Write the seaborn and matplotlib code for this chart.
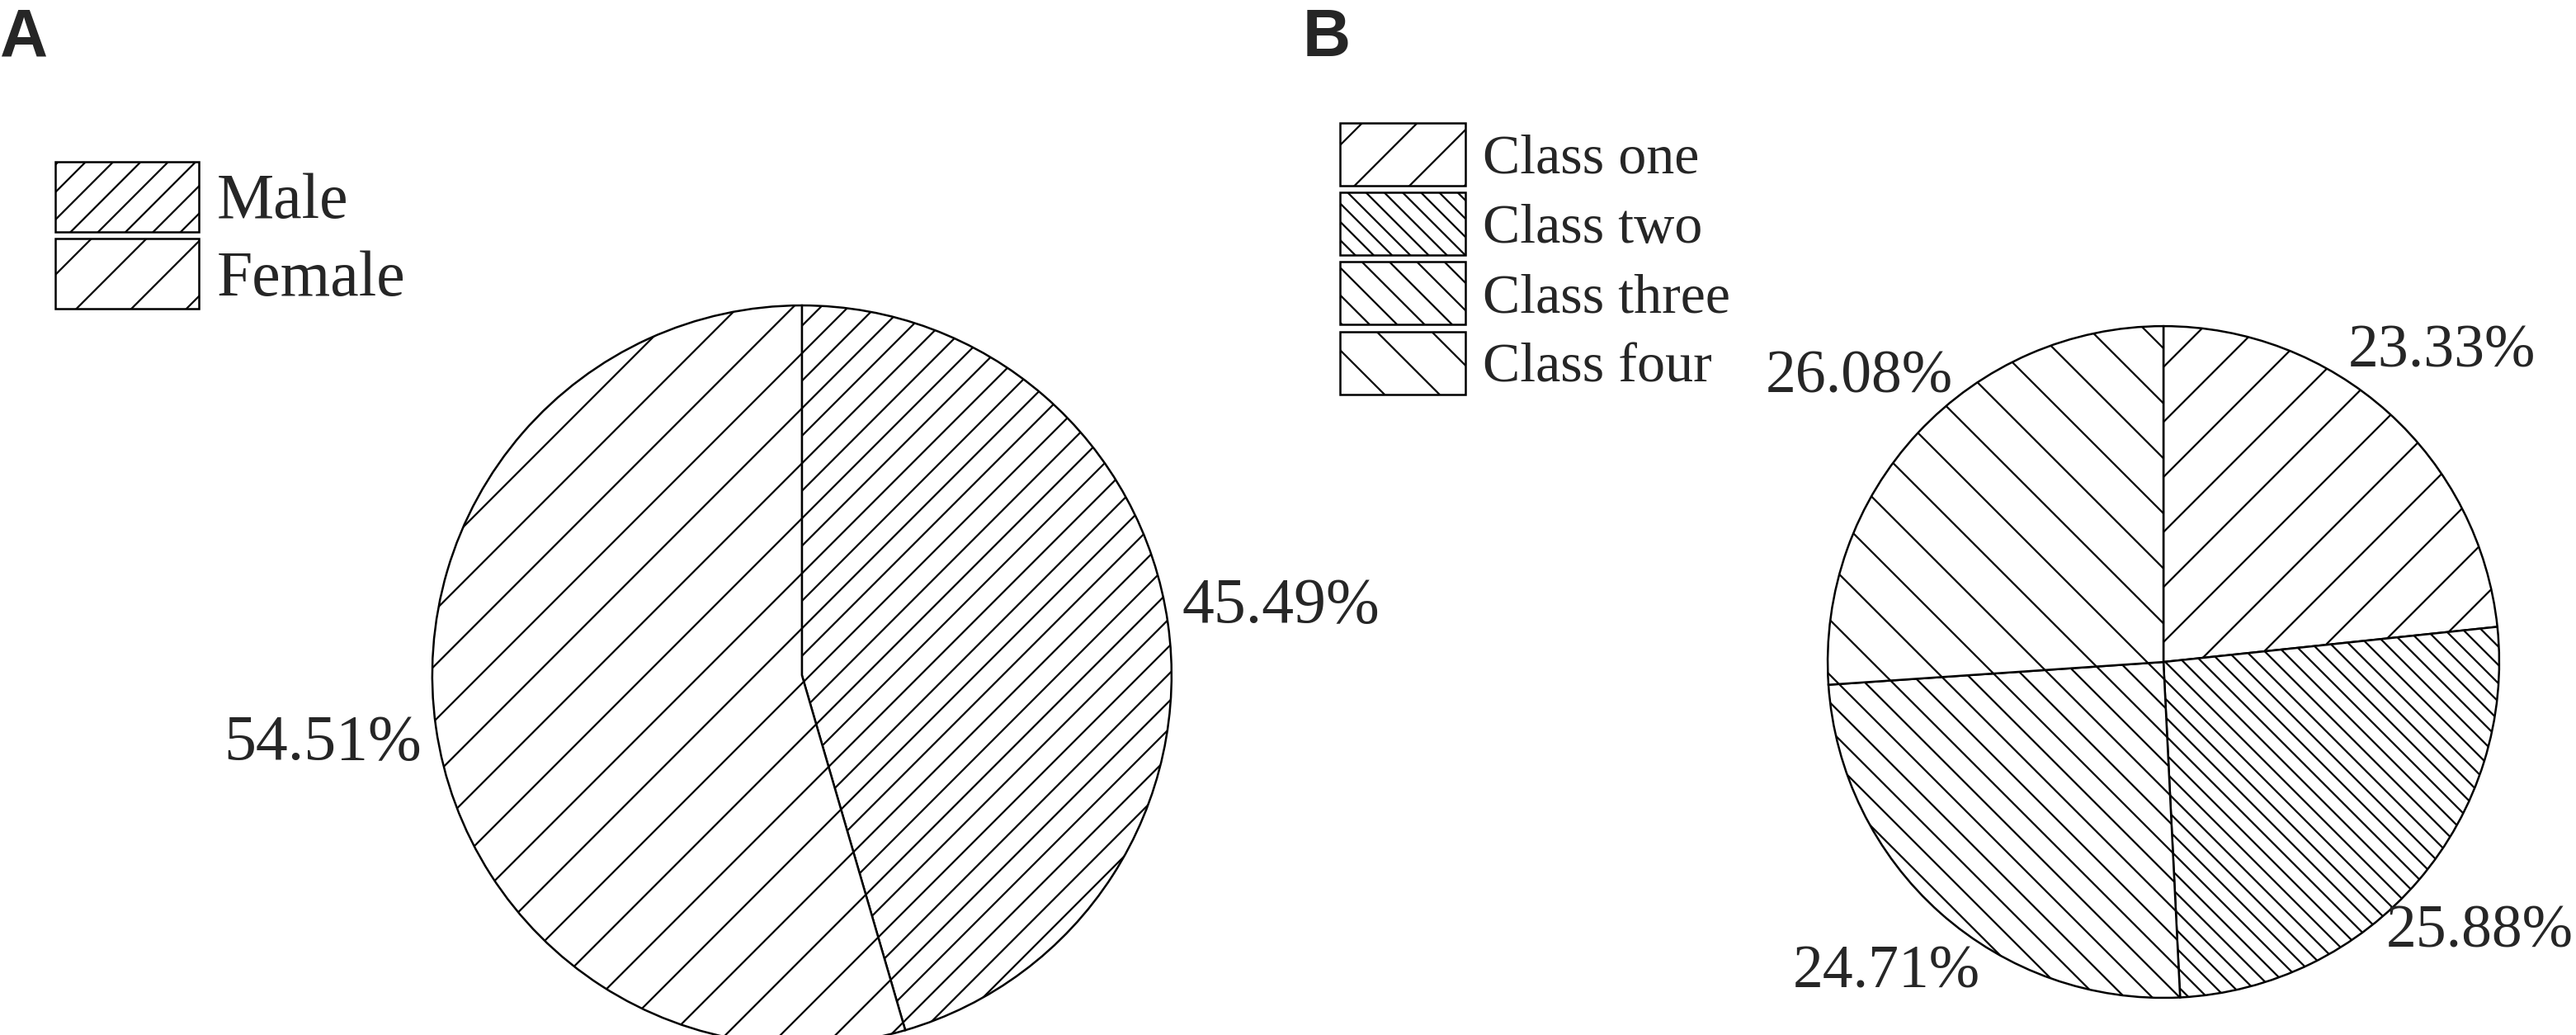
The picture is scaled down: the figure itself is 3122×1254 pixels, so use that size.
import matplotlib
matplotlib.use("Agg")
import matplotlib.pyplot as plt
import seaborn as sns

# panel A: gender split
gender_names = ["Male", "Female"]
gender_share = [45.49, 54.51]
gender_hatch = ["//", "/"]

# panel B: class split
class_names = ["Class one", "Class two", "Class three", "Class four"]
class_share = [23.33, 25.88, 24.71, 26.08]
class_hatch = ["/", "\\\\\\", "\\\\", "\\"]

sns.set_theme(style="white")
plt.rcParams["font.family"] = ["Liberation Serif", "DejaVu Serif"]
plt.rcParams["hatch.linewidth"] = 0.8
plt.rcParams["hatch.color"] = "black"

fig = plt.figure(figsize=(15.61, 6.27), dpi=200)
fig.patch.set_facecolor("white")

wedge_style = dict(facecolor="white", edgecolor="black", linewidth=0.9)

# pie A
ax_a = fig.add_axes([0.1678, -0.0096, 0.287, 0.7145])
wedges_a, _, _ = ax_a.pie(gender_share, startangle=90, counterclock=False,
                          autopct="%.2f%%", pctdistance=1.31,
                          wedgeprops=wedge_style, textprops=dict(fontsize=28))
for w, h in zip(wedges_a, gender_hatch):
    w.set_hatch(h)
ax_a.set_xlim(-1, 1)
ax_a.set_ylim(-1, 1)

# pie B
ax_b = fig.add_axes([0.7095, 0.0359, 0.2607, 0.649])
wedges_b, _, _ = ax_b.pie(class_share, startangle=90, counterclock=False,
                          autopct="%.2f%%", pctdistance=1.24,
                          wedgeprops=wedge_style, textprops=dict(fontsize=26.5))
for w, h in zip(wedges_b, class_hatch):
    w.set_hatch(h)
ax_b.set_xlim(-1, 1)
ax_b.set_ylim(-1, 1)

fig.legend(wedges_a, gender_names, loc="upper left", bbox_to_anchor=(0.0215, 0.8437),
           frameon=False, fontsize=28, handlelength=2.24, handleheight=1.3,
           labelspacing=0.1, handletextpad=0.28, borderpad=0, borderaxespad=0)
fig.legend(wedges_b, class_names, loc="upper left", bbox_to_anchor=(0.5201, 0.881),
           frameon=False, fontsize=24.5, handlelength=2.24, handleheight=1.34,
           labelspacing=0.12, handletextpad=0.3, borderpad=0, borderaxespad=0)

fig.text(0.0, 0.993, "A", fontsize=29, fontweight="bold", family="Liberation Sans",
         ha="left", va="top")
fig.text(0.5055, 0.993, "B", fontsize=29, fontweight="bold", family="Liberation Sans",
         ha="left", va="top")

fig.savefig("out.png", dpi=200, facecolor="white")
